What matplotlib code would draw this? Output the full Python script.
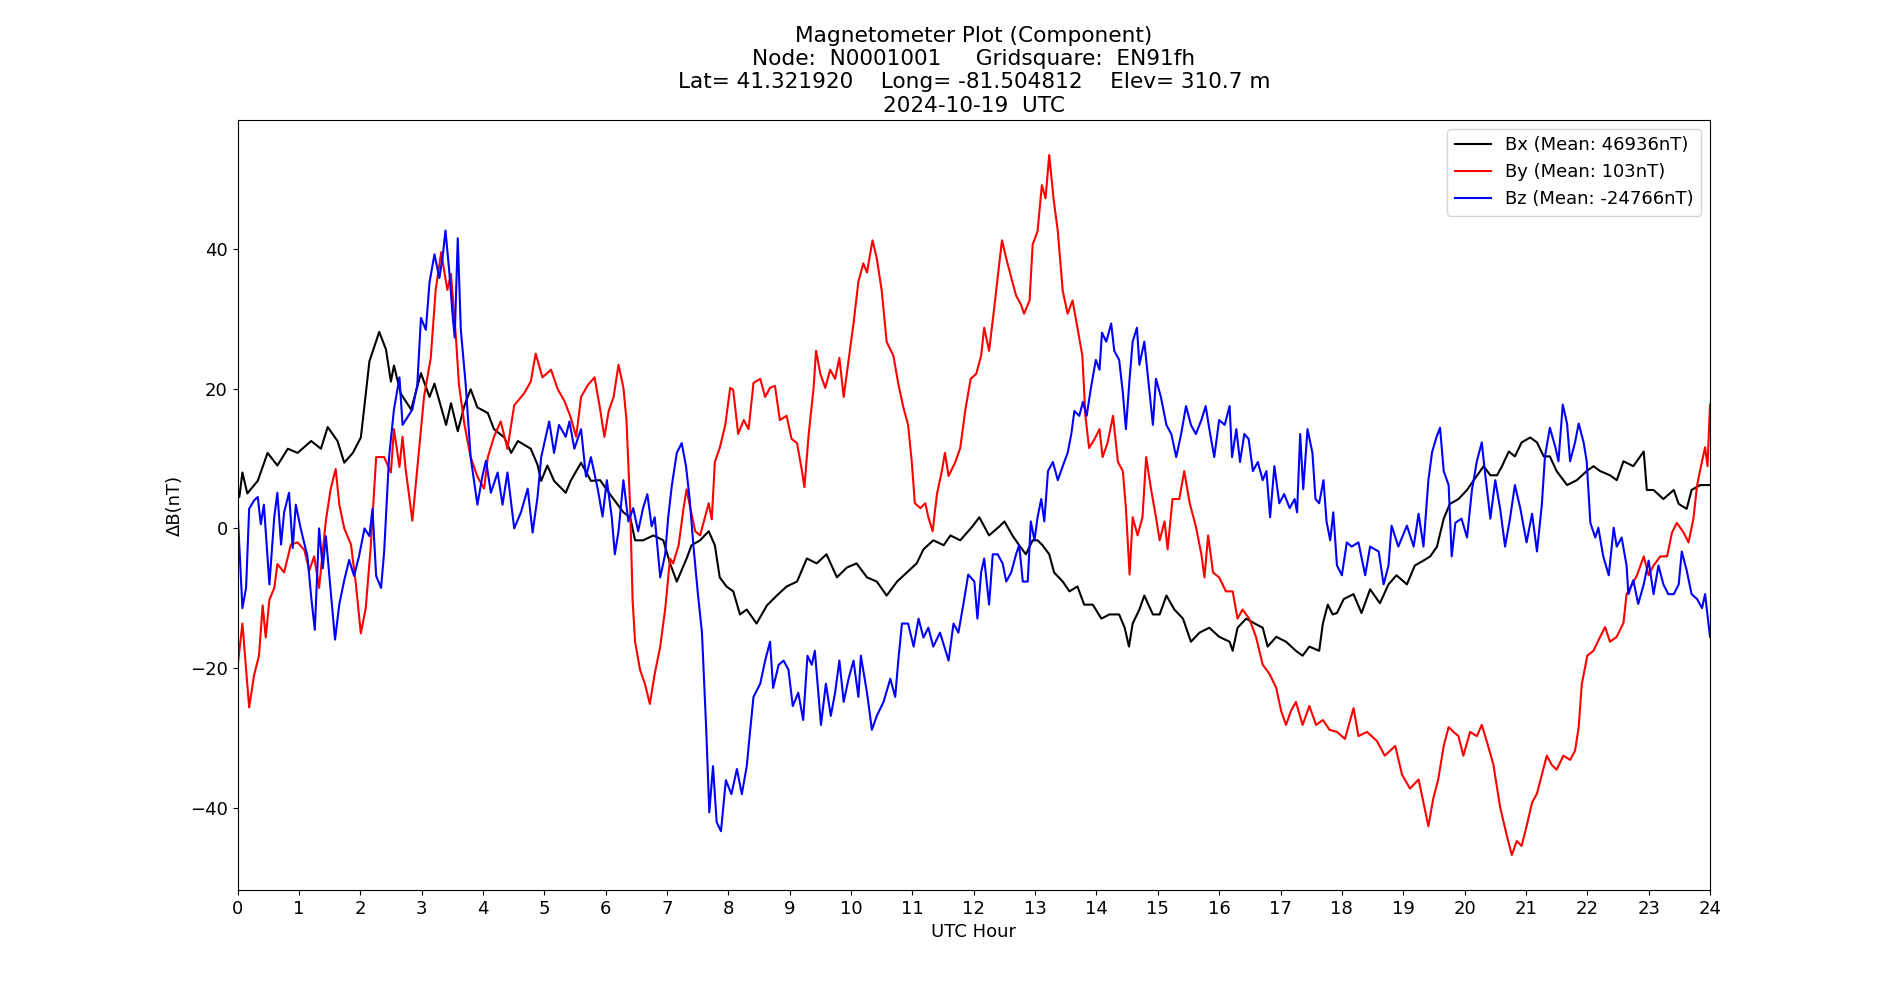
import matplotlib
matplotlib.use('Agg')
import matplotlib.pyplot as plt

plt.rcParams['font.size'] = 13

# readings taken off the reference plot: UTC hour, delta B in nT
bx_hours = [0, 0.03, 0.08, 0.16, 0.33, 0.49, 0.65, 0.82, 0.98, 1.2,
            1.36, 1.47, 1.63, 1.74, 1.88, 2.01, 2.07, 2.15, 2.31, 2.42,
            2.5, 2.55, 2.66, 2.83, 2.99, 3.13, 3.21, 3.4, 3.48, 3.59,
            3.7, 3.8, 3.91, 4.08, 4.18, 4.35, 4.46, 4.57, 4.78, 4.89,
            4.95, 5.05, 5.16, 5.35, 5.43, 5.6, 5.76, 5.91, 6.07, 6.18,
            6.29, 6.4, 6.48, 6.61, 6.78, 6.94, 7.05, 7.16, 7.32, 7.4,
            7.54, 7.68, 7.78, 7.86, 7.97, 8.08, 8.19, 8.3, 8.46, 8.63,
            8.79, 8.95, 9.12, 9.28, 9.44, 9.6, 9.77, 9.93, 10.09, 10.26,
            10.42, 10.58, 10.75, 10.91, 11.07, 11.18, 11.34, 11.51, 11.62, 11.78,
            11.98, 12.09, 12.25, 12.42, 12.5, 12.63, 12.74, 12.85, 12.96, 13.04,
            13.12, 13.23, 13.31, 13.45, 13.56, 13.69, 13.8, 13.94, 14.08, 14.21,
            14.37, 14.46, 14.53, 14.59, 14.7, 14.78, 14.92, 15.03, 15.14, 15.27,
            15.41, 15.54, 15.68, 15.84, 16.0, 16.17, 16.22, 16.3, 16.44, 16.58,
            16.71, 16.79, 16.93, 17.09, 17.25, 17.36, 17.47, 17.63, 17.69, 17.77,
            17.85, 17.92, 18.03, 18.19, 18.32, 18.46, 18.62, 18.76, 18.89, 19.06,
            19.19, 19.33, 19.44, 19.55, 19.66, 19.76, 19.9, 20.04, 20.15, 20.31,
            20.42, 20.53, 20.61, 20.72, 20.82, 20.93, 21.07, 21.18, 21.29, 21.39,
            21.5, 21.67, 21.83, 21.99, 22.1, 22.21, 22.37, 22.48, 22.59, 22.75,
            22.92, 22.97, 23.08, 23.24, 23.41, 23.49, 23.62, 23.7, 23.84, 24.0]
bx_values = [5, 4.5, 8, 5, 6.8, 10.8, 9, 11.4, 10.8, 12.5,
             11.4, 14.5, 12.5, 9.4, 10.8, 13, 17.6, 23.9, 28.1, 25.6,
             21, 23.3, 19.3, 17, 22.2, 18.8, 20.7, 14.8, 17.9, 13.9,
             17.6, 19.9, 17.3, 16.5, 14.2, 13, 10.8, 12.5, 11.4, 9.1,
             6.8, 9, 6.8, 5.1, 6.8, 9.4, 6.8, 6.9, 4.9, 3.6,
             2.3, 1.6, -1.7, -1.7, -1, -1.7, -5, -7.6, -4.3, -2.4,
             -1.7, -0.4, -2.4, -7, -8.3, -9, -12.3, -11.6, -13.6, -11,
             -9.6, -8.3, -7.6, -4.3, -5, -3.7, -7, -5.6, -5, -7,
             -7.6, -9.6, -7.6, -6.3, -5, -3, -1.7, -2.4, -1, -1.7,
             0.3, 1.6, -1, 0.3, 1, -1, -2.4, -3.7, -1.7, -1.7,
             -2.4, -3.7, -6.3, -7.6, -9, -8.3, -10.9, -10.9, -12.9, -12.3,
             -12.3, -14.2, -16.9, -13.6, -11.6, -9.6, -12.3, -12.3, -9.6, -11.6,
             -12.9, -16.2, -14.9, -14.2, -15.5, -16.2, -17.5, -14.2, -12.9, -13.6,
             -14.2, -16.9, -15.5, -16.2, -17.5, -18.2, -16.9, -17.5, -13.6, -10.9,
             -12.3, -12.1, -10.1, -9.4, -12.1, -8.7, -10.7, -8, -6.7, -8,
             -5.3, -4.6, -4, -2.6, 1.4, 3.5, 4.2, 5.5, 6.9, 8.9,
             7.6, 7.6, 8.9, 11, 10.3, 12.3, 13, 12.3, 10.3, 10.3,
             8.2, 6.2, 6.9, 8.2, 8.9, 8.2, 7.6, 6.9, 9.6, 8.9,
             11, 5.5, 5.5, 4.2, 5.5, 3.5, 2.8, 5.5, 6.2, 6.2]

by_hours = [0, 0.08, 0.19, 0.27, 0.35, 0.41, 0.46, 0.52, 0.6, 0.65,
            0.76, 0.87, 0.98, 1.09, 1.17, 1.25, 1.33, 1.44, 1.52, 1.6,
            1.66, 1.74, 1.85, 1.93, 2.01, 2.09, 2.17, 2.26, 2.39, 2.5,
            2.55, 2.64, 2.69, 2.74, 2.85, 2.96, 3.04, 3.15, 3.23, 3.32,
            3.42, 3.48, 3.56, 3.61, 3.7, 3.8, 3.91, 4.02, 4.08, 4.18,
            4.29, 4.4, 4.51, 4.67, 4.78, 4.86, 4.97, 5.11, 5.22, 5.33,
            5.43, 5.52, 5.6, 5.71, 5.82, 5.9, 5.98,
            6.05, 6.13, 6.21, 6.29, 6.34, 6.4, 6.44, 6.48, 6.56, 6.64,
            6.72, 6.8, 6.89, 6.97, 7.05, 7.1, 7.19, 7.27, 7.32, 7.38,
            7.46, 7.54, 7.62, 7.68, 7.73, 7.78, 7.86, 7.95, 8.03, 8.08,
            8.16, 8.25, 8.33, 8.41, 8.52, 8.6, 8.68, 8.76, 8.84, 8.95,
            9.03, 9.12, 9.2, 9.24, 9.31, 9.39, 9.43, 9.5, 9.58, 9.66,
            9.74, 9.81, 9.88, 9.96, 10.04, 10.12, 10.2, 10.26, 10.35, 10.42,
            10.5, 10.58, 10.69, 10.77, 10.85, 10.93, 10.99, 11.04, 11.13, 11.21,
            11.26, 11.33, 11.4, 11.48, 11.53, 11.59, 11.7, 11.78, 11.86,
            11.95, 12.04, 12.12, 12.17, 12.25, 12.34, 12.39, 12.46, 12.53, 12.61,
            12.69, 12.77, 12.82, 12.91, 12.96, 13.04, 13.11, 13.17, 13.23, 13.3,
            13.37, 13.45, 13.53, 13.61, 13.69, 13.77, 13.82, 13.88, 13.97, 14.05,
            14.1, 14.18, 14.27, 14.35, 14.43, 14.48, 14.54, 14.59, 14.67, 14.75,
            14.81, 14.89, 14.97, 15.03, 15.11, 15.16, 15.24, 15.35, 15.43, 15.52,
            15.62, 15.71, 15.76, 15.82, 15.9, 16.0, 16.11, 16.22, 16.3, 16.38,
            16.49, 16.6, 16.71, 16.82, 16.93, 17.01, 17.09, 17.17, 17.25, 17.36,
            17.47, 17.58, 17.69, 17.8,
            17.92, 18.05, 18.19, 18.27, 18.41, 18.57, 18.7, 18.87, 18.98, 19.11,
            19.25, 19.33, 19.41, 19.49, 19.57, 19.66, 19.74, 19.82, 19.9, 19.98,
            20.09, 20.2, 20.28, 20.36, 20.47, 20.58, 20.69, 20.77, 20.85, 20.93,
            21.01, 21.1, 21.18, 21.26, 21.34, 21.42, 21.5, 21.61, 21.72, 21.8,
            21.86, 21.91, 22.0, 22.1, 22.21, 22.29, 22.37, 22.48, 22.59, 22.64,
            22.73, 22.81, 22.92, 23.0, 23.08, 23.19, 23.3, 23.38, 23.46, 23.57,
            23.65, 23.73, 23.79, 23.87, 23.92, 23.96, 24.0]
by_values = [-19.9, -13.6, -25.6, -21, -18.2, -11, -15.6, -10.2, -8.5, -5.1,
             -6.3, -2.3, -2, -3.1, -6, -4, -8.5, 1.1, 5.7, 8.5,
             3.4, 0, -2.3, -8, -15, -11.4, -2.8, 10.2, 10.2, 8,
             14.2, 8.8, 13.1, 8.5, 1.1, 11.4, 18.8, 24.4, 34.1, 39.5,
             34.1, 36.4, 27.3, 20.5, 14.8, 10.2, 7.4, 5.7, 10.2, 13.1,
             15.3, 11.4, 17.6, 19.3, 21, 25, 21.6, 22.7, 19.9, 18.2,
             15.9, 13.1, 18.8, 20.5, 21.6, 17.6, 13.1,
             16.8, 18.8, 23.4, 20.1, 15.5, 2.9, -10.3, -16.2, -20.2, -22.2,
             -25.1, -20.8, -16.9, -11.6, -4.3, -5, -2.4, 2.9, 5.6, 2.9,
             -0.4, -1, 1.6, 3.6, 1.3, 9.5, 11.5, 14.8, 20.1, 19.8,
             13.5, 15.5, 14.2, 20.8, 21.4, 18.8, 20.1, 20.4, 15.5, 16.1,
             12.8, 12.2, 8.2, 5.9, 13.5, 20.1, 25.4, 22.1, 20.1, 22.7,
             21.4, 24.4, 18.8, 24.1, 29.3, 35.3, 37.9, 36.6, 41.2, 38.6,
             34, 26.7, 24.7, 20.7, 17.4, 14.8, 9.5, 3.6, 2.9, 3.6,
             1.6, -0.4, 4.9, 8.2, 10.8, 7.5, 9.5, 11.5, 16.8,
             21.4, 22.1, 24.7, 28.7, 25.4, 32, 35.9, 41.2, 38.6, 35.9,
             33.3, 32, 30.7, 32.6, 40.6, 42.5, 49.1, 47.2, 53.4, 47.2,
             42.5, 34, 30.7, 32.6, 28.7, 24.7, 16.1, 11.5, 12.8, 14.2,
             10.2, 12.2, 16.1, 9.5, 8.2, 2.9, -6.6, 1.6, -1, 1.6,
             10.2, 5.6, 1.6, -1.7, 1, -3, 4.2, 4.2, 8.2, 3.6,
             0.3, -3.7, -7, -1, -6.3, -7, -9, -9, -12.9, -11.6,
             -12.9, -15.5, -19.5, -20.8, -22.8, -26.1, -28.1, -26.1, -24.8, -28.1,
             -25.4, -28.1, -27.4, -28.8,
             -29.1, -30.1, -25.7, -29.7, -29.1, -30.4, -32.5, -31.1, -35.2, -37.2,
             -35.9, -39.2, -42.6, -38.6, -35.9, -31.1, -28.4, -29.1, -29.7, -32.5,
             -29.1, -29.7, -28.1, -30.4, -33.8, -39.9, -44, -46.7, -44.7, -45.4,
             -42.6, -39.2, -37.9, -35.2, -32.5, -33.8, -34.5, -32.5, -33.1, -31.8,
             -28.4, -22.3, -18.2, -17.5, -15.5, -14.1, -16.2, -15.5, -13.5, -9.4,
             -8, -6.7, -4, -6.7, -5.3, -4, -4, -0.6, 0.8, -0.6,
             -2, 1.4, 6.2, 9.6, 11.6, 8.9, 17.7]

bz_hours = [0, 0.08, 0.14, 0.19, 0.27, 0.33, 0.38, 0.43, 0.52, 0.6,
            0.65, 0.71, 0.76, 0.84, 0.9, 0.95, 1.03, 1.14, 1.2, 1.26,
            1.33, 1.39, 1.44, 1.52, 1.59, 1.66, 1.74, 1.82, 1.9, 1.98,
            2.07, 2.15, 2.2, 2.26, 2.34, 2.39, 2.47, 2.55, 2.64, 2.69,
            2.77, 2.85, 2.93, 2.99, 3.07, 3.13, 3.21, 3.29, 3.34, 3.39,
            3.45, 3.51, 3.54, 3.59, 3.64, 3.72, 3.8, 3.91, 3.99, 4.05,
            4.13, 4.24, 4.32, 4.4, 4.51, 4.62, 4.73, 4.81, 4.89, 4.95,
            5.08, 5.16, 5.24, 5.35, 5.41, 5.49, 5.6, 5.68, 5.76, 5.87,
            5.95, 6.02,
            6.1, 6.15, 6.21, 6.29, 6.37, 6.45, 6.53, 6.61, 6.68, 6.75,
            6.8, 6.89, 6.97, 7.02, 7.08, 7.16, 7.24, 7.31, 7.37, 7.43,
            7.5, 7.57, 7.64, 7.69, 7.75, 7.81, 7.88, 7.96, 8.05, 8.14,
            8.22, 8.3, 8.35, 8.41, 8.52, 8.6, 8.68, 8.73, 8.82, 8.9,
            8.98, 9.05, 9.14, 9.22, 9.29, 9.36, 9.41, 9.51, 9.59, 9.67,
            9.74, 9.81, 9.88, 9.96, 10.04, 10.12, 10.16, 10.26, 10.34, 10.42,
            10.53, 10.64, 10.72, 10.77, 10.83, 10.93, 11.02, 11.1, 11.18, 11.26,
            11.34, 11.45, 11.59, 11.67, 11.75, 11.83, 11.91,
            12.01, 12.06, 12.12, 12.17, 12.25, 12.31, 12.39, 12.47, 12.53, 12.61,
            12.69, 12.74, 12.8, 12.88, 12.93, 12.99, 13.04, 13.1, 13.15, 13.21,
            13.29, 13.37, 13.45, 13.53, 13.59, 13.64, 13.72, 13.78, 13.84, 13.91,
            13.99, 14.05, 14.09, 14.16, 14.24, 14.29, 14.37, 14.43, 14.48, 14.54,
            14.59, 14.66, 14.7, 14.78, 14.85, 14.92, 14.97, 15.05, 15.14, 15.22,
            15.3, 15.38, 15.46, 15.54, 15.62, 15.71, 15.78, 15.84, 15.92, 16.0,
            16.09, 16.17, 16.21, 16.28, 16.34, 16.41, 16.48, 16.55, 16.63, 16.71,
            16.77, 16.83, 16.9, 16.98, 17.06, 17.15, 17.23, 17.27, 17.32, 17.37,
            17.44, 17.52, 17.57, 17.63, 17.7, 17.75, 17.81, 17.86,
            17.92, 18.0, 18.08, 18.16, 18.27, 18.38, 18.46, 18.6, 18.68, 18.76,
            18.81, 18.92, 19.06, 19.17, 19.25, 19.33, 19.41, 19.47, 19.54, 19.6,
            19.66, 19.74, 19.79, 19.85, 19.95, 20.04, 20.12, 20.2, 20.28, 20.33,
            20.42, 20.5, 20.58, 20.66, 20.74, 20.82, 20.91, 21.01, 21.1, 21.18,
            21.26, 21.31, 21.39, 21.48, 21.53, 21.6, 21.67, 21.72, 21.8, 21.86,
            21.94, 21.99, 22.05, 22.13, 22.18, 22.26, 22.35, 22.43, 22.48, 22.56,
            22.64, 22.67, 22.75, 22.83, 22.92, 23.0, 23.08, 23.16, 23.24, 23.32,
            23.41, 23.49, 23.54, 23.62, 23.7, 23.79, 23.87, 23.92, 24.0]
bz_values = [2.8, -11.4, -8.5, 2.8, 4, 4.5, 0.6, 3.4, -8, 1.7,
             5.1, -2.3, 2.3, 5.1, -2.8, 3.4, 0, -4, -9.7, -14.5,
             0, -5.7, -1.1, -9.1, -15.9, -10.8, -7.4, -4.5, -6.8, -4,
             0, -1.1, 2.8, -6.8, -8.5, -3.4, 10.2, 17, 21.6, 14.8,
             15.9, 17, 20.5, 30.1, 28.4, 35.2, 39.2, 35.8, 38.6, 42.6,
             36.9, 30.1, 27.3, 41.5, 28.4, 20.5, 10.2, 3.4, 7.4, 9.7,
             5.1, 8, 3.4, 8, 0, 2.3, 5.7, -0.6, 4.5, 10.2,
             15.3, 10.8, 14.8, 13.1, 15.3, 11.4, 14.2, 7.4, 10.2, 5.7,
             1.7, 6.9,
             1.6, -3.7, -0.4, 6.9, 1, 2.9, -0.4, 2.9, 4.9, 0.3,
             1.6, -7, -3.7, 1.6, 6.2, 10.8, 12.2, 8.9, 4.2, -2.4,
             -9, -14.9, -28.8, -40.6, -34, -42, -43.3, -36, -38, -34.4,
             -38, -34, -29.4, -24.1, -22.2, -18.9, -16.2, -22.8, -19.5, -18.9,
             -20.2, -25.4, -23.5, -27.4, -18.2, -19.5, -17.5, -28.1, -22.2, -26.8,
             -23.5, -18.9, -24.8, -21.5, -18.9, -24.1, -18.2, -23.5, -28.8, -26.8,
             -24.8, -21.5, -24.1, -18.9, -13.6, -13.6, -16.9, -12.9, -15.6, -14.2,
             -16.9, -14.9, -18.9, -13.6, -14.9, -10.9, -6.6,
             -7.6, -12.9, -6.3, -4.3, -10.9, -3.7, -3.7, -5, -7.6, -6.3,
             -3.7, -2.4, -7.6, -7.6, 1, -1.7, 1.6, 4.2, 1, 8.2,
             9.5, 6.9, 8.9, 10.8, 13.5, 16.8, 16.1, 18.1, 16.1, 20.1,
             24.1, 22.7, 28, 26.7, 29.3, 25.4, 24.1, 19.4, 14.2, 21.4,
             26.7, 28.7, 23.4, 26.7, 20.8, 14.8, 21.4, 18.8, 14.8, 13.5,
             10.2, 13.5, 17.5, 14.8, 13.5, 15.5, 17.5, 14.2, 10.2, 15.5,
             14.8, 17.5, 10.2, 14.2, 9.5, 13.5, 12.8, 8.2, 9.5, 6.9,
             8.2, 1.6, 8.9, 3.6, 4.9, 2.9, 4.2, 2.3, 13.5, 5.6,
             14.2, 10.8, 4.2, 3.6, 6.9, 1, -1.7, 2.3,
             -5.3, -6.7, -2, -2.6, -2, -6.7, -2.6, -3.3, -8, -5.3,
             0.4, -2.6, 0.4, -2.6, 2.1, -2.6, 6.9, 10.9, 13, 14.4,
             8.2, 6.2, -4, 0.8, 1.4, -1.3, 5.5, 9.6, 12.3, 8.2,
             1.4, 6.9, 2.8, -2.6, 1.4, 6.2, 2.8, -2, 2.1, -3.3,
             3.5, 10.3, 14.4, 11.6, 9.6, 17.7, 15, 9.6, 12.3, 15,
             12.3, 9.6, 0.8, -1.3, 0.1, -4, -6.7, 0.1, -2.6, -1.3,
             -5.3, -9.4, -7.4, -10.8, -8, -4.6, -9.4, -5.3, -8, -9.4,
             -9.4, -8, -3.3, -6, -9.4, -10.1, -11.4, -9.4, -15.5]

labels = ['Bx (Mean: 46936nT)', 'By (Mean: 103nT)', 'Bz (Mean: -24766nT)']
title = ('Magnetometer Plot (Component)\n'
         'Node:  N0001001     Gridsquare:  EN91fh\n'
         'Lat= 41.321920    Long= -81.504812    Elev= 310.7 m\n'
         '2024-10-19  UTC')

fig, ax = plt.subplots(figsize=(19, 10), dpi=100)
ax.plot(bx_hours, bx_values, color='black', label=labels[0])
ax.plot(by_hours, by_values, color='red', label=labels[1])
ax.plot(bz_hours, bz_values, color='blue', label=labels[2])

ax.set_xlim(0, 24)
ax.set_xticks(range(0, 25))
ax.set_xlabel('UTC Hour')
ax.set_ylabel('\u0394B(nT)')
ax.set_title(title)
ax.legend(loc='upper right')

fig.savefig('out.png', dpi=100)
